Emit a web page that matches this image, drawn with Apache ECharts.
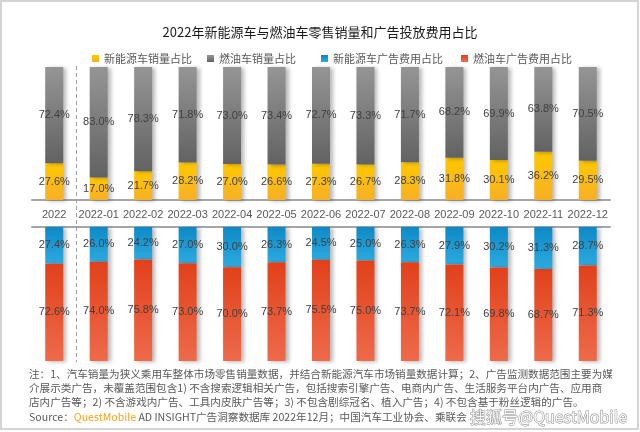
<!DOCTYPE html>
<html><head><meta charset="utf-8">
<script src="https://cdn.jsdelivr.net/npm/echarts@6/dist/echarts.min.js"></script>
<style>html,body{margin:0;padding:0;background:#fff}#c{width:640px;height:432px}</style>
</head><body><div id="c"></div>
<script>
const categories = ['2022','2022-01','2022-02','2022-03','2022-04','2022-05','2022-06','2022-07','2022-08','2022-09','2022-10','2022-11','2022-12'];
const nevSales = [27.6,17.0,21.7,28.2,27.0,26.6,27.3,26.7,28.3,31.8,30.1,36.2,29.5];
const iceSales = [72.4,83.0,78.3,71.8,73.0,73.4,72.7,73.3,71.7,68.2,69.9,63.8,70.5];
const nevAd = [27.4,26.0,24.2,27.0,30.0,26.3,24.5,25.0,26.3,27.9,30.2,31.3,28.7];
const iceAd = [72.6,74.0,75.8,73.0,70.0,73.7,75.5,75.0,73.7,72.1,69.8,68.7,71.3];
const seriesNames = ['新能源车销量占比','燃油车销量占比','新能源车广告费用占比','燃油车广告费用占比'];
const titleText = '2022年新能源车与燃油车零售销量和广告投放费用占比';
const noteLines = [
  '注：1、汽车销量为狭义乘用车整体市场零售销量数据，并结合新能源汽车市场销量数据计算；2、广告监测数据范围主要为媒',
  '介展示类广告，未覆盖范围包含1) 不含搜索逻辑相关广告，包括搜索引擎广告、电商内广告、生活服务平台内广告、应用商',
  '店内广告等；2) 不含游戏内广告、工具内皮肤广告等；3) 不包含剧综冠名、植入广告；4) 不包含基于粉丝逻辑的广告。'
];

const FONT = '"Liberation Sans", Arial, "Noto Sans CJK SC", sans-serif';
const CJK = '"Noto Sans CJK SC", "Liberation Sans", sans-serif';
function grad(c1, c2) {
  return new echarts.graphic.LinearGradient(0, 0, 0, 1, [{offset: 0, color: c1}, {offset: 1, color: c2}]);
}
const lbl = {show: true, position: 'inside', color: '#404040', fontSize: 11, fontFamily: FONT,
  formatter: p => p.value.toFixed(1) + '%'};
const sh = {shadowColor: 'rgba(0,0,0,0.28)', shadowBlur: 4, shadowOffsetX: 3, shadowOffsetY: 1};
const colors = ['#FFC300', '#7f7f7f', '#1596D0', '#E8532E'];

const chart = echarts.init(document.getElementById('c'), null, {renderer: 'canvas'});
function legendAt(i, left) {
  return {data: [seriesNames[i]], left: left, top: 48, icon: 'rect', itemWidth: 7, itemHeight: 7,
    textStyle: {color: '#595959', fontSize: 11, fontFamily: CJK}, selectedMode: false};
}
const option = {
  animation: false,
  color: colors,
  title: {text: titleText, left: 'center', top: 21,
    textStyle: {fontSize: 13, fontWeight: 'normal', color: '#1a1a1a', fontFamily: CJK}},
  legend: [legendAt(0, 87), legendAt(1, 202), legendAt(2, 316), legendAt(3, 456)],
  grid: [
    {left: 32, right: 30, top: 67, height: 133},
    {left: 32, right: 30, top: 227, height: 134}
  ],
  xAxis: [
    {gridIndex: 0, type: 'category', data: categories,
      axisLine: {lineStyle: {color: '#a6a6a6', width: 2}}, axisTick: {show: false},
      axisLabel: {color: '#595959', fontSize: 11, fontFamily: FONT, margin: 9, interval: 0}},
    {gridIndex: 1, type: 'category', data: categories, position: 'top',
      axisLine: {onZero: false, lineStyle: {color: '#a6a6a6', width: 2}}, axisTick: {show: false},
      axisLabel: {show: false}}
  ],
  yAxis: [
    {gridIndex: 0, type: 'value', min: 0, max: 100, show: false},
    {gridIndex: 1, type: 'value', min: 0, max: 100, show: false, inverse: true}
  ],
  series: [
    {name: seriesNames[0], type: 'bar', stack: 'top', xAxisIndex: 0, yAxisIndex: 0, barWidth: 18,
      data: nevSales, itemStyle: Object.assign({color: grad('#FFC800', '#F6B026')}, sh), label: lbl},
    {name: seriesNames[1], type: 'bar', stack: 'top', xAxisIndex: 0, yAxisIndex: 0, barWidth: 18,
      data: iceSales, itemStyle: Object.assign({color: grad('#959595', '#626262')}, sh), label: lbl},
    {name: seriesNames[2], type: 'bar', stack: 'bot', xAxisIndex: 1, yAxisIndex: 1, barWidth: 18,
      data: nevAd, itemStyle: Object.assign({color: grad('#0D89C6', '#2CAADF')}, sh), label: lbl},
    {name: seriesNames[3], type: 'bar', stack: 'bot', xAxisIndex: 1, yAxisIndex: 1, barWidth: 18,
      data: iceAd, itemStyle: Object.assign({color: grad('#E1411A', '#EE6A4B')}, sh), label: lbl}
  ]
};
chart.setOption(option);

const x0 = chart.convertToPixel({xAxisIndex: 0}, categories[0]);
const x1 = chart.convertToPixel({xAxisIndex: 0}, categories[1]);
const xd = Math.round((x0 + x1) / 2) + 0.5;
const noteStyle = {fill: '#595959', fontSize: 10.6, fontFamily: CJK, verticalAlign: 'middle', align: 'left'};
const graphics = [
  {type: 'rect', shape: {x: 1, y: 1, width: 637, height: 428}, style: {fill: 'none', stroke: '#d4d4d4', lineWidth: 2}, z: 0},
  {type: 'line', shape: {x1: xd, y1: 66, x2: xd, y2: 362}, style: {stroke: '#a0a0a0', lineWidth: 1, lineDash: [4, 3]}, z: 1},
  {type: 'text', x: 29, y: 374, style: Object.assign({text: noteLines[0]}, noteStyle)},
  {type: 'text', x: 29, y: 388, style: Object.assign({text: noteLines[1]}, noteStyle)},
  {type: 'text', x: 29, y: 402, style: Object.assign({text: noteLines[2]}, noteStyle)},
  {type: 'text', x: 29, y: 417, style: {
    text: '{g|Source：}{o|QuestMobile}{g| AD INSIGHT广告洞察数据库 2022年12月；中国汽车工业协会、乘联会}',
    verticalAlign: 'middle', align: 'left',
    rich: {
      g: {fill: '#595959', fontSize: 10.6, fontFamily: CJK},
      o: {fill: '#F7A21B', fontSize: 10.6, fontFamily: CJK}
    }}},
  {type: 'text', x: 470, y: 417, z: 10, style: {text: '搜狐号@QuestMobile', fill: 'rgba(255,255,255,0.95)',
    stroke: '#8a8a8a', lineWidth: 1, fontSize: 16, fontFamily: CJK, verticalAlign: 'middle', align: 'left'}}
];
chart.setOption({graphic: graphics});
</script>
</body></html>
